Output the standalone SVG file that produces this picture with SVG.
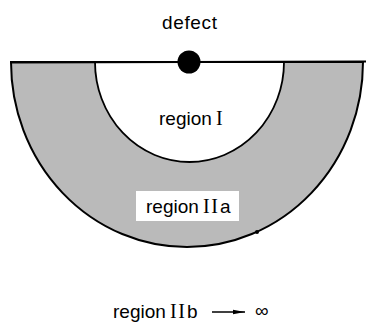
<svg xmlns="http://www.w3.org/2000/svg" width="366" height="333" viewBox="0 0 366 333">
<style>
.t{font-family:"Liberation Sans",Arial,sans-serif;font-size:19px;fill:#000}
.s{font-family:"Liberation Serif","Times New Roman",serif;font-size:20px;fill:#000}
.ln{stroke:#000;fill:none}
</style>
<defs>
<marker id="ah" markerWidth="12" markerHeight="6" refX="12" refY="3" orient="auto" markerUnits="userSpaceOnUse">
<path d="M0,0.8 L12,3 L0,5.2 Z" fill="#000"/>
</marker>
</defs>
<g id="region-IIa">
<path d="M 11 62 A 176 185 0 0 0 363 62 Z" fill="#bababa" stroke="#000" stroke-width="2"/>
<circle cx="257" cy="232" r="2" fill="#000"/>
</g>
<g id="region-I">
<path d="M 95 62 A 94.5 100 0 0 0 284 62 Z" fill="#fff" stroke="#000" stroke-width="1.8"/>
<text class="t" x="159" y="125">region</text>
<text class="s" x="216" y="125">I</text>
</g>
<g id="surface">
<line class="ln" x1="10" y1="62.5" x2="366" y2="61.5" stroke-width="2"/>
</g>
<g id="defect">
<circle cx="189" cy="62" r="11.5" fill="#000"/>
<text class="t" x="162" y="29" textLength="55" lengthAdjust="spacing">defect</text>
</g>
<g id="label-IIa">
<rect x="136" y="191" width="103" height="30" fill="#fff"/>
<text class="t" x="146" y="213">region</text>
<text class="s" x="203" y="213" textLength="15" lengthAdjust="spacing">II</text>
<text class="t" x="220" y="213">a</text>
</g>
<g id="region-IIb">
<text class="t" x="113" y="318">region</text>
<text class="s" x="170" y="318" textLength="15" lengthAdjust="spacing">II</text>
<text class="t" x="187" y="318">b</text>
</g>
<g id="connectors">
<line class="ln" x1="212" y1="312" x2="245" y2="312" stroke-width="1.5" marker-end="url(#ah)"/>
</g>
<text class="t" x="255" y="317" font-size="20">∞</text>
</svg>
